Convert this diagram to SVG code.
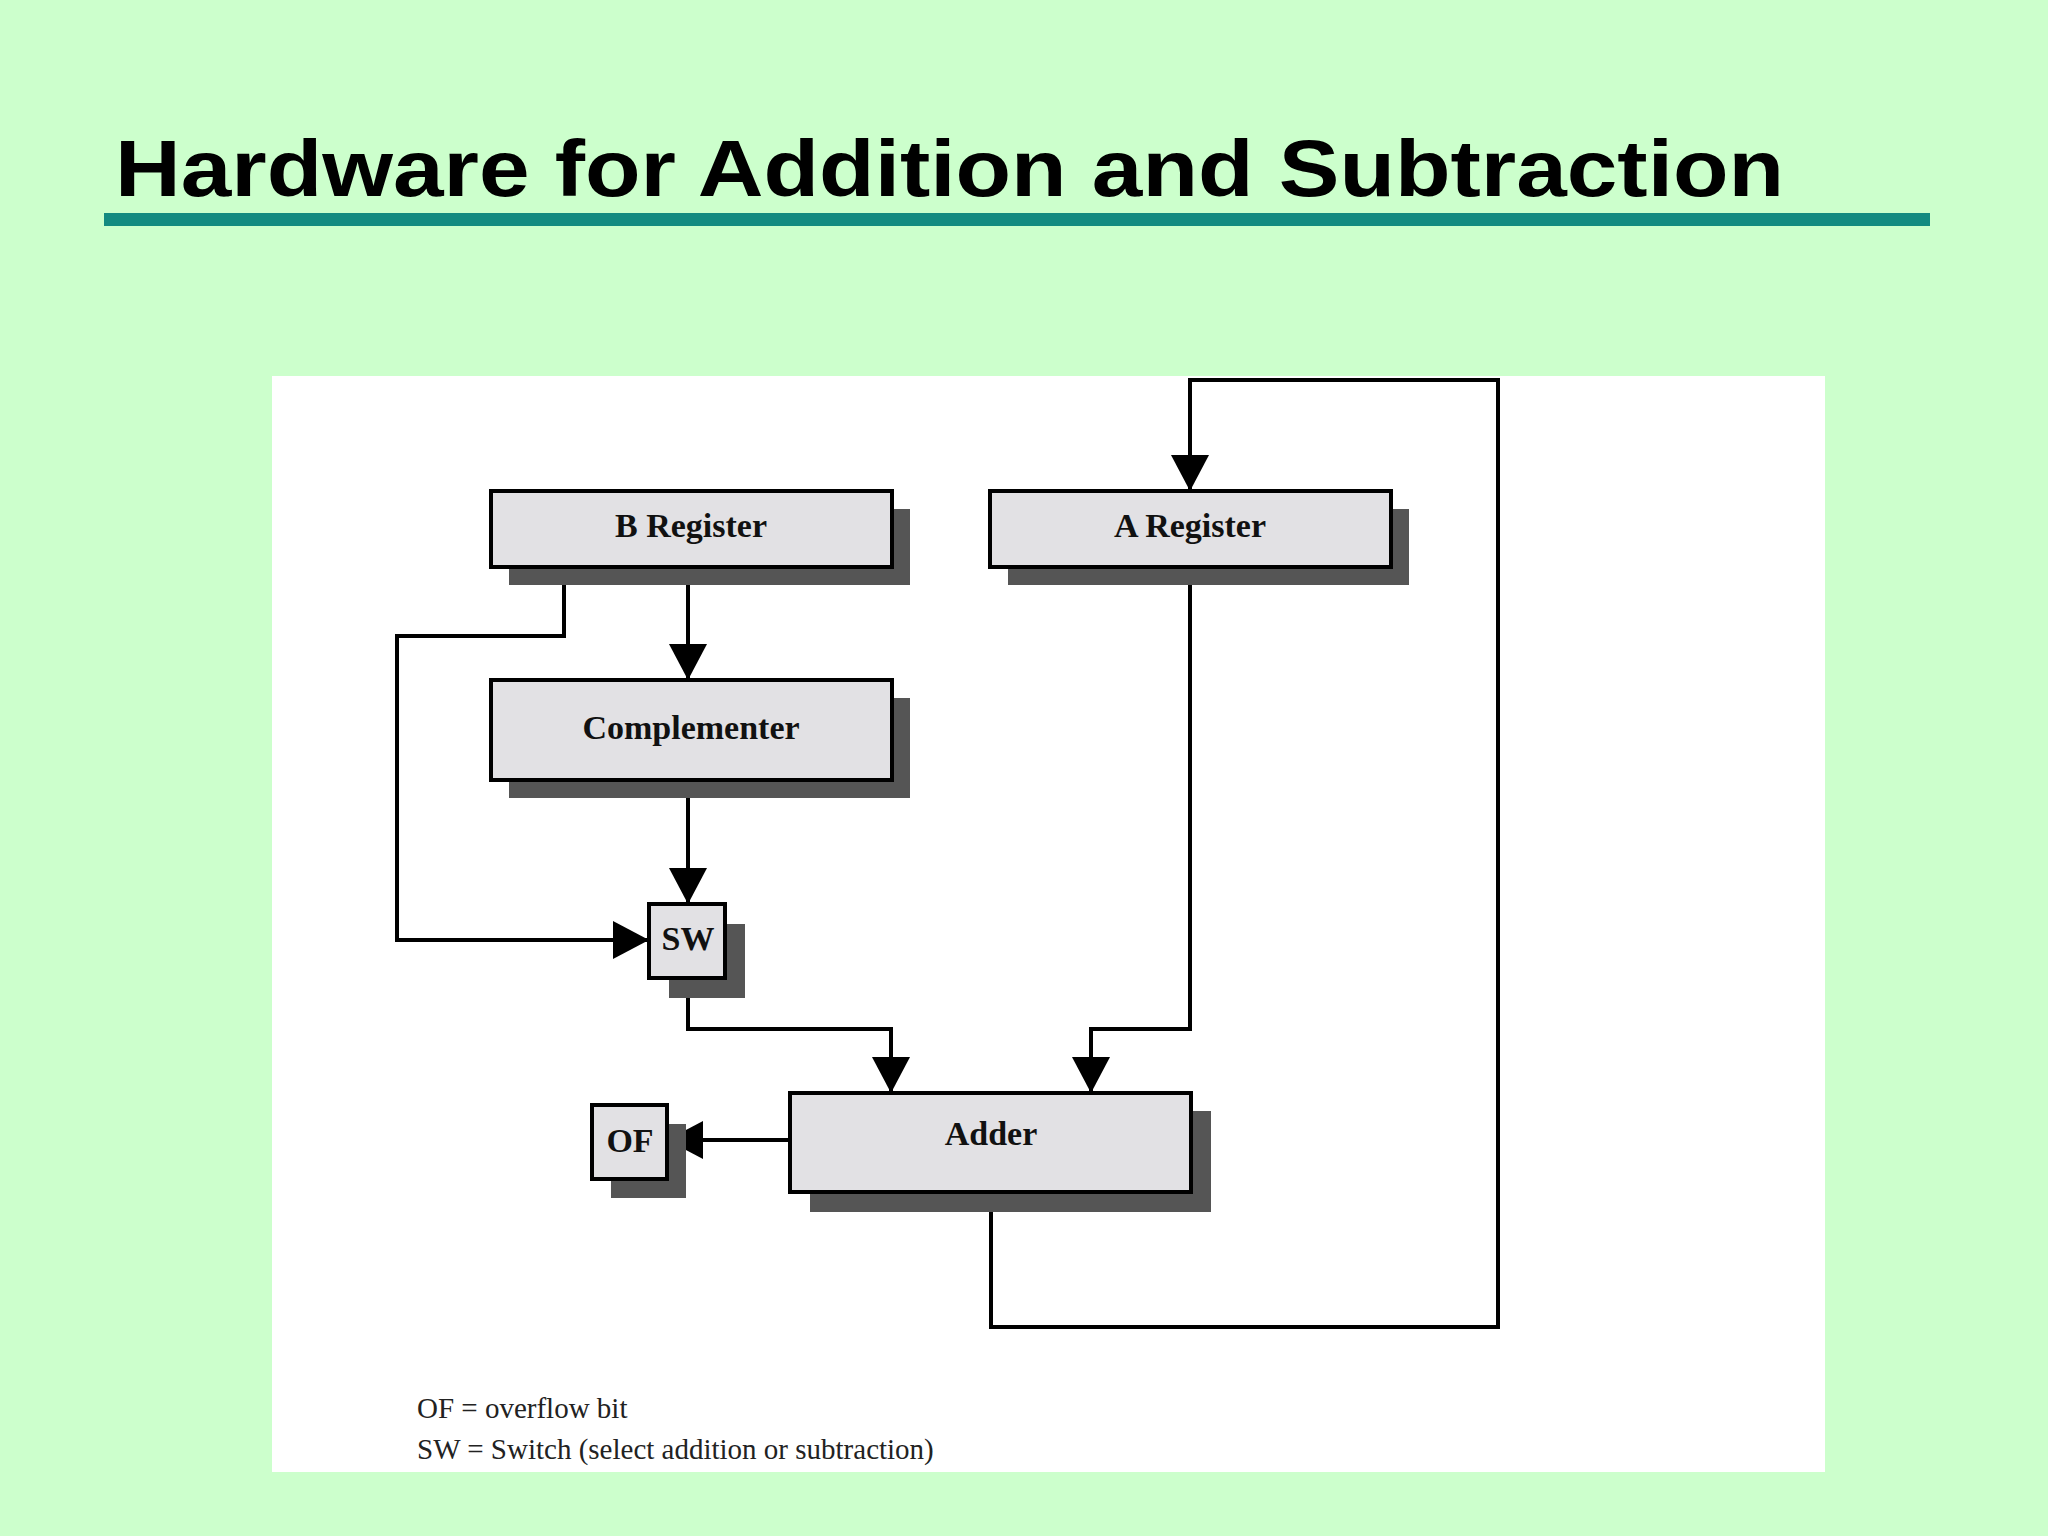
<svg xmlns="http://www.w3.org/2000/svg" width="2048" height="1536" viewBox="0 0 2048 1536">
<style>
.box{fill:#e2e1e4;stroke:#000;stroke-width:4}
.sh{fill:#555}
.lbl{font-family:"Liberation Serif",serif;font-weight:bold;font-size:34px;text-anchor:middle;fill:#111}
.ln{fill:none;stroke:#000;stroke-width:4}
.leg{font-family:"Liberation Serif",serif;font-size:29px;fill:#222}
</style>
<defs>
<marker id="ah" markerUnits="userSpaceOnUse" markerWidth="40" markerHeight="40" viewBox="0 0 40 40" refX="36" refY="20" orient="auto">
<path d="M0,1 L36,20 L0,39 Z" fill="#000"/>
</marker>
</defs>
<rect width="2048" height="1536" fill="#ccffcc"/>
<text x="115" y="196" font-family="Liberation Sans,Arial,sans-serif" font-weight="bold" font-size="80" textLength="1669" lengthAdjust="spacingAndGlyphs">Hardware for Addition and Subtraction</text>
<rect x="104" y="213" width="1826" height="13" fill="#138a80"/>
<rect x="272" y="376" width="1553" height="1096" fill="#fff"/>
<g id="connectors">
<path class="ln" d="M688,567 V680" marker-end="url(#ah)"/>
<path class="ln" d="M564,567 V636 H397 V940 H649" marker-end="url(#ah)"/>
<path class="ln" d="M688,780 V904" marker-end="url(#ah)"/>
<path class="ln" d="M688,978 V1029 H891 V1093" marker-end="url(#ah)"/>
<path class="ln" d="M1190,567 V1029 H1091 V1093" marker-end="url(#ah)"/>
<path class="ln" d="M790,1140 H667" marker-end="url(#ah)"/>
<path class="ln" d="M991,1192 V1327 H1498 V380 H1190 V491" marker-end="url(#ah)"/>
</g>
<g id="b-register"><rect class="sh" x="509" y="509" width="401" height="76"/><rect class="box" x="491" y="491" width="401" height="76"/><text class="lbl" x="691" y="537">B Register</text></g>
<g id="a-register"><rect class="sh" x="1008" y="509" width="401" height="76"/><rect class="box" x="990" y="491" width="401" height="76"/><text class="lbl" x="1190" y="537">A Register</text></g>
<g id="complementer"><rect class="sh" x="509" y="698" width="401" height="100"/><rect class="box" x="491" y="680" width="401" height="100"/><text class="lbl" x="691" y="739">Complementer</text></g>
<g id="sw"><rect class="sh" x="669" y="924" width="76" height="74"/><rect class="box" x="649" y="904" width="76" height="74"/><text class="lbl" x="688" y="950">SW</text></g>
<g id="adder"><rect class="sh" x="810" y="1111" width="401" height="101"/><rect class="box" x="790" y="1093" width="401" height="99"/><text class="lbl" x="991" y="1145">Adder</text></g>
<g id="of"><rect class="sh" x="611" y="1124" width="75" height="74"/><rect class="box" x="592" y="1105" width="75" height="74"/><text class="lbl" x="630" y="1152">OF</text></g>
<text class="leg" x="417" y="1418">OF = overflow bit</text>
<text class="leg" x="417" y="1459">SW = Switch (select addition or subtraction)</text>
</svg>
